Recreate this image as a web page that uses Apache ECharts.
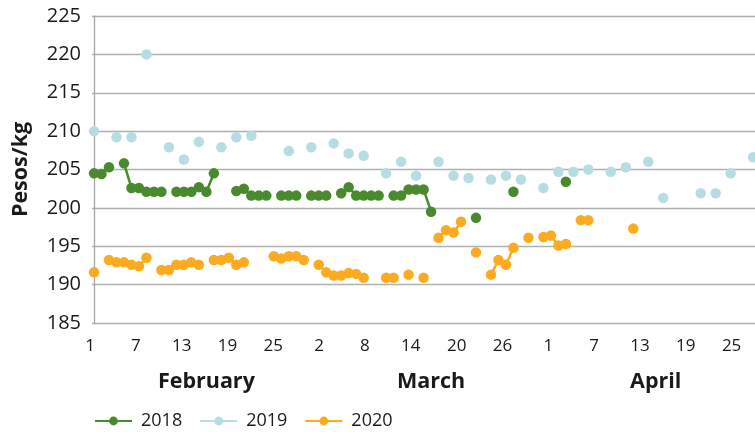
<!DOCTYPE html>
<html>
<head>
<meta charset="utf-8">
<script src="https://cdn.jsdelivr.net/npm/echarts@6/dist/echarts.min.js"></script>
<style>
html, body { margin: 0; padding: 0; background: #fff; }
#chart { width: 755px; height: 432px; }
</style>
</head>
<body>
<div id="chart"></div>
<script>
// x = day index counted from 1 February
var tickDays = [0, 6, 12, 18, 24, 30, 36, 42, 48, 54, 60, 66, 72, 78, 84];
var tickLabels = ['1', '7', '13', '19', '25', '2', '8', '14', '20', '26', '1', '7', '13', '19', '25'];
var monthDays = [15, 45, 75];
var monthNames = ['February', 'March', 'April'];

var days2018 = [0, 1, 2, 4, 5, 6, 7, 8, 9, 11, 12, 13, 14, 15, 16, 19, 20, 21, 22, 23, 25, 26, 27, 29, 30, 31,
    33, 34, 35, 36, 37, 38, 40, 41, 42, 43, 44, 45, 51, 56, 63];
var vals2018 = [204.5, 204.4, 205.3, 205.8, 202.6, 202.6, 202.1, 202.1, 202.1, 202.1, 202.1, 202.1, 202.7, 202.1, 204.5,
    202.2, 202.5, 201.6, 201.6, 201.6, 201.6, 201.6, 201.6, 201.6, 201.6, 201.6,
    201.9, 202.7, 201.6, 201.6, 201.6, 201.6, 201.6, 201.6, 202.4, 202.4, 202.4, 199.5, 198.7, 202.1, 203.4];

var days2019 = [0, 3, 5, 7, 10, 12, 14, 17, 19, 21, 26, 29, 32, 34, 36, 39, 41, 43, 46, 48, 50, 53, 55, 57, 60,
    62, 64, 66, 69, 71, 74, 76, 81, 83, 85, 88];
var vals2019 = [210.0, 209.2, 209.2, 220.0, 207.9, 206.3, 208.6, 207.9, 209.2, 209.4, 207.4, 207.9, 208.4, 207.1, 206.8,
    204.5, 206.0, 204.2, 206.0, 204.2, 203.9, 203.7, 204.2, 203.7, 202.6,
    204.7, 204.7, 205.0, 204.7, 205.3, 206.0, 201.3, 201.9, 201.9, 204.5, 206.6];

var days2020 = [0, 2, 3, 4, 5, 6, 7, 9, 10, 11, 12, 13, 14, 16, 17, 18, 19, 20, 24, 25, 26, 27, 28, 30, 31,
    32, 33, 34, 35, 36, 39, 40, 42, 44, 46, 47, 48, 49, 51, 53, 54, 55, 56, 58, 60, 61, 62, 63, 65, 66, 72];
var vals2020 = [191.6, 193.2, 192.9, 192.9, 192.6, 192.4, 193.5, 191.9, 191.9, 192.6, 192.6, 192.9, 192.6, 193.2, 193.2,
    193.5, 192.6, 192.9, 193.7, 193.4, 193.7, 193.7, 193.2, 192.6, 191.6,
    191.2, 191.2, 191.5, 191.4, 190.9, 190.9, 190.9, 191.3, 190.9, 196.1, 197.1, 196.8, 198.2, 194.2, 191.3,
    193.2, 192.6, 194.8, 196.1, 196.2, 196.4, 195.1, 195.3, 198.4, 198.4, 197.3];

// one entry per day, '-' where there is no price so the line breaks
function byDay(days, vals) {
    var out = [];
    for (var d = 0; d <= 88; d++) {
        var i = days.indexOf(d);
        out.push([d, i >= 0 ? vals[i] : '-']);
    }
    return out;
}

function makeSeries(name, color, days, vals) {
    return {
        name: name,
        type: 'line',
        xAxisIndex: 0,
        data: byDay(days, vals),
        connectNulls: false,
        symbol: 'circle',
        symbolSize: 10.5,
        showAllSymbol: true,
        itemStyle: {color: color},
        lineStyle: {color: color, width: 2.5},
        emphasis: {disabled: true}
    };
}

var font = '"Open Sans", "Noto Sans", sans-serif';
var myChart = echarts.init(document.getElementById('chart'), null, {renderer: 'canvas'});

var option = {
    animation: false,
    textStyle: {fontFamily: font},
    grid: {left: 92, right: 0, top: 16, bottom: 109, containLabel: false},
    legend: {
        left: 94,
        top: 412,
        padding: 0,
        itemWidth: 37,
        itemHeight: 11,
        itemGap: 17,
        textStyle: {fontSize: 18, color: '#1a1a1a', fontFamily: font, padding: [0, 0, 0, 4]},
        data: ['2018', '2019', '2020']
    },
    xAxis: [
        {
            type: 'value',
            min: -0.27,
            max: 88.25,
            axisLine: {show: false},
            axisTick: {show: false},
            splitLine: {show: false},
            axisLabel: {
                customValues: monthDays,
                margin: 48,
                fontSize: 21.5,
                fontWeight: 'bold',
                color: '#1a1a1a',
                fontFamily: font,
                formatter: function (v) { return monthNames[monthDays.indexOf(v)]; }
            }
        },
        {
            type: 'value',
            position: 'bottom',
            min: 0,
            max: 86.8,
            axisLine: {show: false},
            axisTick: {show: false},
            splitLine: {show: false},
            axisLabel: {
                customValues: tickDays,
                margin: 15,
                fontSize: 17,
                color: '#1a1a1a',
                fontFamily: font,
                padding: [0, 4, 0, 0],
                formatter: function (v) { return tickLabels[tickDays.indexOf(v)]; }
            }
        }
    ],
    yAxis: {
        type: 'value',
        min: 185,
        max: 225,
        interval: 5,
        name: 'Pesos/kg',
        nameLocation: 'middle',
        nameGap: 60,
        nameTextStyle: {fontSize: 21.5, fontWeight: 'bold', color: '#1a1a1a', fontFamily: font},
        axisLine: {show: true, lineStyle: {color: '#a6a6a6', width: 1.3}},
        axisTick: {show: false},
        splitLine: {lineStyle: {color: '#b0b0b0', width: 1.3}},
        axisLabel: {fontSize: 20, color: '#1a1a1a', margin: 11, fontFamily: font}
    },
    series: [
        makeSeries('2018', '#4a8a2e', days2018, vals2018),
        makeSeries('2019', '#b7dde3', days2019, vals2019),
        makeSeries('2020', '#fcaa1f', days2020, vals2020)
    ]
};

myChart.setOption(option);
</script>
</body>
</html>
